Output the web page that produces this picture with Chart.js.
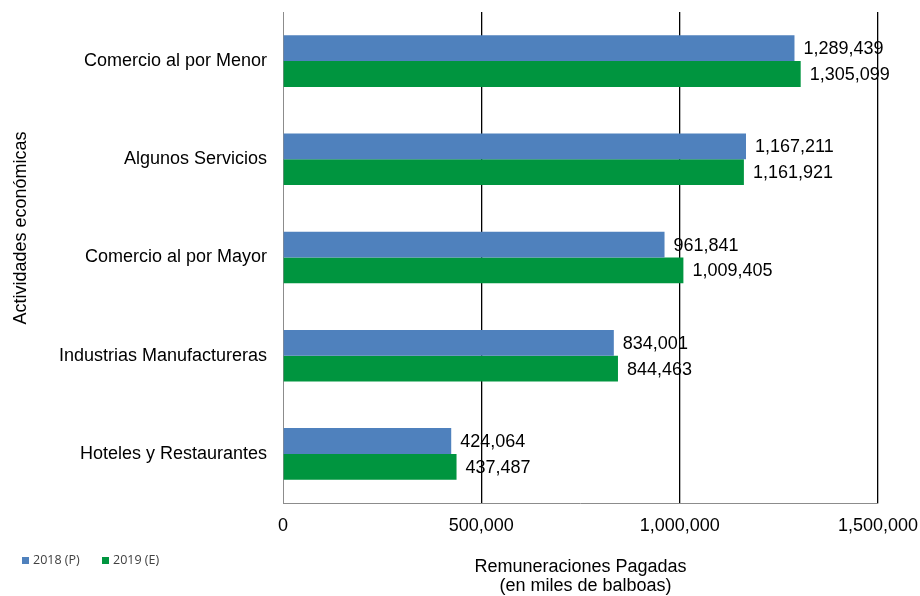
<!DOCTYPE html>
<html lang="es">
<head>
    <meta charset="UTF-8">
    <title>Remuneraciones Pagadas por actividad económica</title>
    <script src="https://cdn.jsdelivr.net/npm/chart.js"></script>
    <style>
        body { margin: 0; background: #fff; }
    </style>
</head>
<body>
    <canvas id="grafica" width="920" height="596"></canvas>

    <script>
        const actividades = [
            'Comercio al por Menor',
            'Algunos Servicios',
            'Comercio al por Mayor',
            'Industrias Manufactureras',
            'Hoteles y Restaurantes'
        ];
        const valores2018 = [1289439, 1167211, 961841, 834001, 424064];
        const valores2019 = [1305099, 1161921, 1009405, 844463, 437487];
        const series = ['2018 (P)', '2019 (E)'];
        const tituloX = ['Remuneraciones Pagadas', '  (en miles de balboas)'];
        const tituloY = 'Actividades económicas';

        const fuente = "'Liberation Sans', Arial, sans-serif";

        function formato(v) {
            return v.toLocaleString('en-US');
        }

        // sin relleno extra de las escalas, solo el del layout
        function sinRelleno(s) {
            s.paddingTop = 0;
            s.paddingBottom = 0;
            s.paddingLeft = 0;
            s.paddingRight = 0;
        }

        // etiquetas de valor al final de cada barra
        const etiquetas = {
            id: 'etiquetas',
            afterDatasetsDraw(chart) {
                const ctx = chart.ctx;
                ctx.save();
                ctx.font = '18px ' + fuente;
                ctx.fillStyle = '#000';
                ctx.textAlign = 'left';
                ctx.textBaseline = 'middle';
                chart.data.datasets.forEach((ds, i) => {
                    chart.getDatasetMeta(i).data.forEach((bar, j) => {
                        ctx.fillText(formato(ds.data[j]), bar.x + 9, bar.y + 1);
                    });
                });
                ctx.restore();
            }
        };

        // título del eje vertical y leyenda abajo a la izquierda
        const extras = {
            id: 'extras',
            afterDraw(chart) {
                const ctx = chart.ctx;
                ctx.save();
                ctx.font = '18px ' + fuente;
                ctx.fillStyle = '#000';
                ctx.textAlign = 'center';
                ctx.textBaseline = 'middle';
                ctx.translate(21, 228);
                ctx.rotate(-Math.PI / 2);
                ctx.fillText(tituloY, 0, 0);
                ctx.restore();

                ctx.save();
                ctx.font = "12.5px 'Open Sans', 'Noto Sans', sans-serif";
                ctx.textBaseline = 'middle';
                ctx.textAlign = 'left';
                let x = 22;
                chart.data.datasets.forEach(ds => {
                    ctx.fillStyle = ds.backgroundColor;
                    ctx.fillRect(x, 557, 7, 7);
                    ctx.fillStyle = '#404040';
                    ctx.fillText(ds.label, x + 11, 560);
                    x += 80;
                });
                ctx.restore();
            }
        };

        new Chart(document.getElementById('grafica'), {
            type: 'bar',
            data: {
                labels: actividades,
                datasets: [
                    { label: series[0], data: valores2018, backgroundColor: '#4F81BD' },
                    { label: series[1], data: valores2019, backgroundColor: '#00953F' }
                ]
            },
            options: {
                indexAxis: 'y',
                responsive: false,
                animation: false,
                devicePixelRatio: 1,
                layout: { padding: { top: 12, right: 42, bottom: 0, left: 0 } },
                datasets: {
                    bar: { categoryPercentage: 0.525, barPercentage: 1 }
                },
                plugins: {
                    legend: { display: false },
                    tooltip: { enabled: false }
                },
                scales: {
                    x: {
                        min: 0,
                        max: 1500000,
                        afterFit: s => { s.height = 93; sinRelleno(s); },
                        ticks: {
                            stepSize: 500000,
                            padding: 12,
                            color: '#000',
                            font: { family: fuente, size: 18 },
                            callback: v => formato(v)
                        },
                        grid: {
                            drawTicks: false,
                            color: c => (c.tick && c.tick.value === 0) ? 'rgba(0,0,0,0)' : '#000',
                            lineWidth: 1.3
                        },
                        border: { display: true, color: '#8C8C8C', width: 1 },
                        title: {
                            display: true,
                            text: tituloX,
                            color: '#000',
                            font: { family: fuente, size: 18, lineHeight: '19px' },
                            padding: { top: 0, bottom: 0 }
                        }
                    },
                    y: {
                        afterFit: s => { s.width = 283; sinRelleno(s); },
                        ticks: {
                            padding: 16,
                            color: '#000',
                            font: { family: fuente, size: 18 }
                        },
                        grid: { display: false, drawTicks: false },
                        border: { display: true, color: '#8C8C8C', width: 1 }
                    }
                }
            },
            plugins: [etiquetas, extras]
        });
    </script>
</body>
</html>
